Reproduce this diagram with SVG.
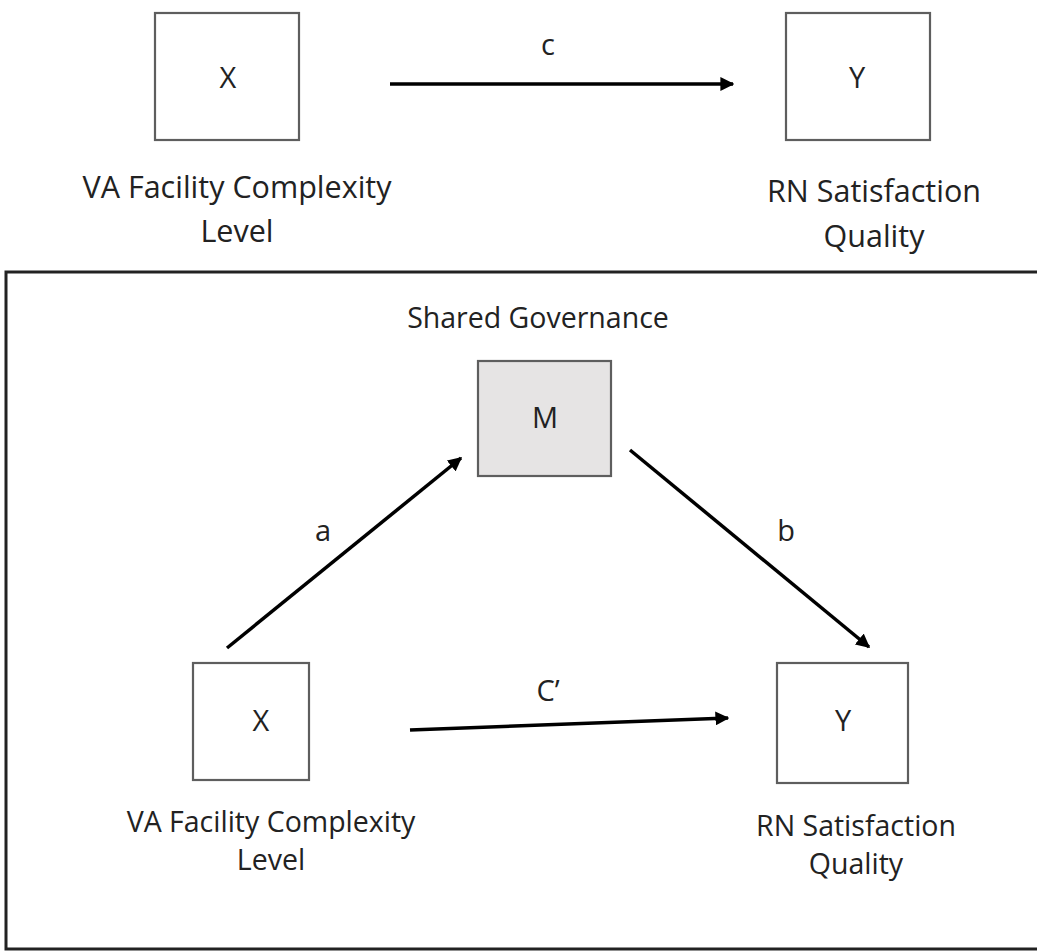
<svg xmlns="http://www.w3.org/2000/svg" width="1037" height="951" viewBox="0 0 1037 951">
<style>
.box{fill:#fff;stroke:#5e5e5e;stroke-width:2.2}
.mbox{fill:#e6e4e4;stroke:#5e5e5e;stroke-width:2.2}
.lbl{font-family:"Open Sans","Liberation Sans",sans-serif;fill:#222;text-anchor:middle}
.t1{font-size:30.5px}
.t2{font-size:28.5px}
.sym{font-family:"Open Sans","Liberation Sans",sans-serif;font-size:29px;fill:#222;text-anchor:middle}
.conn line{stroke:#000;stroke-width:3.5;marker-end:url(#ah)}
</style>
<defs>
<marker id="ah" viewBox="0 0 10 10" refX="9" refY="5" markerWidth="4" markerHeight="4" markerUnits="strokeWidth" orient="auto">
<path d="M0,0 L10,5 L0,10 z" fill="#000"/>
</marker>
</defs>
<rect x="0" y="0" width="1037" height="951" fill="#fff"/>
<g id="panel"><path d="M1040,272 L6,272 L6,949 L1040,949" fill="none" stroke="#222" stroke-width="3"/></g>
<g id="topX"><rect class="box" x="155" y="13" width="144" height="127"/><text class="sym" x="228" y="88">X</text>
<text class="lbl t1" x="237" y="198">VA Facility Complexity</text><text class="lbl t1" x="237" y="242">Level</text></g>
<g id="topY"><rect class="box" x="786" y="13" width="144" height="127"/><text class="sym" x="857" y="88">Y</text>
<text class="lbl t1" x="874" y="202">RN Satisfaction</text><text class="lbl t1" x="874" y="247">Quality</text></g>
<g id="M"><text class="lbl t2" x="538" y="328">Shared Governance</text><rect class="mbox" x="478" y="361" width="133" height="115"/><text class="sym" x="545" y="428">M</text></g>
<g id="botX"><rect class="box" x="193" y="663" width="116" height="117"/><text class="sym" x="261" y="731">X</text>
<text class="lbl t2" x="271" y="832">VA Facility Complexity</text><text class="lbl t2" x="271" y="870">Level</text></g>
<g id="botY"><rect class="box" x="777" y="663" width="131" height="120"/><text class="sym" x="843" y="731">Y</text>
<text class="lbl t2" x="856" y="836">RN Satisfaction</text><text class="lbl t2" x="856" y="874">Quality</text></g>
<g class="conn" id="connectors">
<line x1="390" y1="84" x2="733" y2="84"/>
<line x1="227" y1="648" x2="461" y2="458"/>
<line x1="630" y1="450" x2="869" y2="647"/>
<line x1="410" y1="730" x2="728" y2="718"/>
</g>
<g id="edge-labels">
<text class="sym" x="548" y="55">c</text>
<text class="sym" x="323" y="541">a</text>
<text class="sym" x="786" y="541">b</text>
<text class="sym" x="548" y="701">C’</text>
</g>
</svg>
